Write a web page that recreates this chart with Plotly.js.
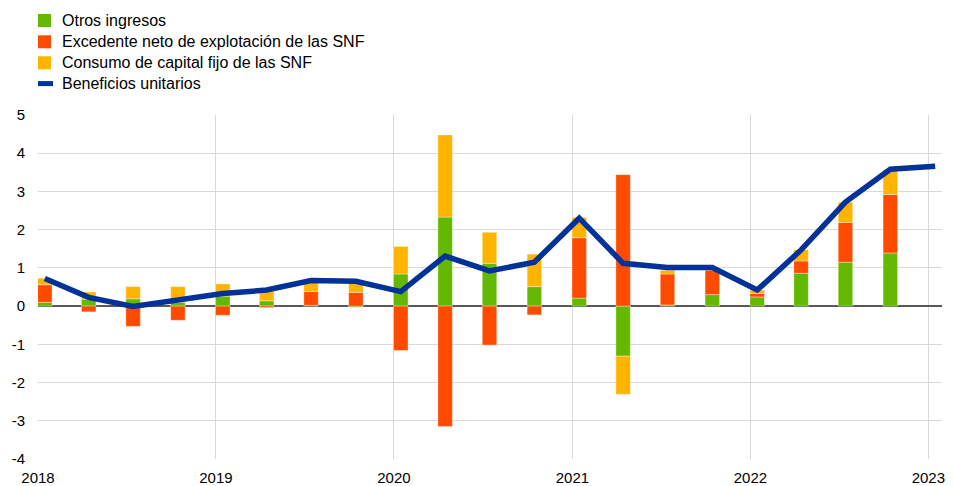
<!DOCTYPE html>
<html>
<head>
<meta charset="utf-8">
<script src="https://cdn.plot.ly/plotly-3.0.1.min.js"></script>
<style>html,body{margin:0;padding:0;background:#fff;}#chart{width:954px;height:486px;}</style>
</head>
<body>
<div id="chart"></div>
<script>
// Quarterly periods (2018Q1 .. 2023Q1)
const periods = ["2018Q1","2018Q2","2018Q3","2018Q4","2019Q1","2019Q2","2019Q3","2019Q4",
  "2020Q1","2020Q2","2020Q3","2020Q4","2021Q1","2021Q2","2021Q3","2021Q4",
  "2022Q1","2022Q2","2022Q3","2022Q4","2023Q1"];
// Contributions (percentage points); bars for 2018Q1..2022Q4
const otrosIngresos = [0.10, 0.18, 0.19, 0.10, 0.26, 0.14, 0.02, -0.03,
  0.84, 2.33, 1.12, 0.51, 0.21, -1.31, 0.03, 0.30,
  0.24, 0.86, 1.15, 1.39];
const excedenteNeto = [0.46, -0.15, -0.53, -0.37, -0.24, -0.04, 0.36, 0.36,
  -1.16, -3.15, -1.02, -0.23, 1.58, 3.44, 0.81, 0.64,
  0.09, 0.32, 1.04, 1.53];
const consumoCapital = [0.17, 0.19, 0.32, 0.41, 0.32, 0.27, 0.27, 0.29,
  0.72, 2.15, 0.81, 0.85, 0.53, -1.00, 0.10, 0.03,
  0.09, 0.30, 0.53, 0.65];
// Unit profits (annual % change), 2018Q1..2023Q1
const beneficiosUnitarios = [0.72, 0.23, -0.01, 0.16, 0.33, 0.42, 0.67, 0.65,
  0.38, 1.31, 0.92, 1.15, 2.30, 1.12, 1.01, 1.01,
  0.42, 1.47, 2.72, 3.58, 3.66];
const yearTicks = ["2018","2019","2020","2021","2022","2023"];
const yTicks = [-4,-3,-2,-1,0,1,2,3,4,5];

const names = ["Otros ingresos","Excedente neto de explotación de las SNF","Consumo de capital fijo de las SNF","Beneficios unitarios"];
const colors = ["#65b800","#ff4b00","#ffb400","#003299"];

function periodToDate(p){
  const y = p.slice(0,4); const q = +p.slice(5);
  const m = String((q-1)*3+1).padStart(2,"0");
  return y + "-" + m + "-15";
}
const xDates = periods.map(periodToDate);
const barDates = xDates.slice(0, otrosIngresos.length);
const barWidth = 29.7*864e5;

function barTrace(vals, i){
  return {type:"bar", x:barDates, y:vals, name:names[i], width:barWidth,
    marker:{color:colors[i], line:{color:"rgba(255,255,255,0.35)", width:1}},
    hoverinfo:"x+y"};
}
const traces = [
  barTrace(otrosIngresos,0),
  barTrace(excedenteNeto,1),
  barTrace(consumoCapital,2),
  {type:"scatter", mode:"lines", x:xDates, y:beneficiosUnitarios, name:names[3],
   line:{color:colors[3], width:5.5}}
];

// Legend drawn as shapes + annotations (pixel layout converted to paper coords)
const W = 954, H = 486, M = {l:38, r:12, t:115, b:27};
const pw = W - M.l - M.r, ph = H - M.t - M.b;
const px = x => (x - M.l) / pw;
const py = y => (H - M.b - y) / ph;
const legendY = [20.5, 41.8, 62.8, 83.6];
const shapes = [], annotations = [];
names.forEach((n, i) => {
  const yc = legendY[i];
  if (i < 3) {
    shapes.push({type:"rect", xref:"paper", yref:"paper", x0:px(38), x1:px(51), y0:py(yc-6.5), y1:py(yc+6.5),
      fillcolor:colors[i], line:{width:0}});
  } else {
    shapes.push({type:"rect", xref:"paper", yref:"paper", x0:px(38), x1:px(53), y0:py(yc-2.5), y1:py(yc+2.5),
      fillcolor:colors[i], line:{width:0}});
  }
  annotations.push({xref:"paper", yref:"paper", x:px(60), y:py(yc), xanchor:"left", yanchor:"middle",
    text:n, showarrow:false, font:{size:16, color:"#000"}});
});

const layout = {
  width:W, height:H,
  margin:{l:M.l, r:M.r, t:M.t, b:M.b, autoexpand:false},
  paper_bgcolor:"#fff", plot_bgcolor:"#fff",
  barmode:"relative", bargap:0,
  font:{family:"Liberation Sans, Arial, sans-serif", size:15, color:"#000"},
  showlegend:false,
  shapes:shapes, annotations:annotations,
  xaxis:{type:"date", range:["2018-01-01","2023-01-29"],
    tickmode:"array", tickvals:yearTicks.map(y=>y+"-01-01"), ticktext:yearTicks,
    showgrid:true, gridcolor:"#d9d9d9", gridwidth:1, zeroline:false, showline:false,
    ticks:"", ticklabelstandoff:8, tickfont:{size:15, color:"#000"}},
  yaxis:{range:[-4,5], tickmode:"array", tickvals:yTicks, ticktext:yTicks.map(String),
    showgrid:true, gridcolor:"#d9d9d9", gridwidth:1,
    zeroline:true, zerolinecolor:"#595959", zerolinewidth:1.5, showline:false,
    ticks:"", ticklabelstandoff:12, tickfont:{size:15, color:"#000"}}
};
Plotly.newPlot("chart", traces, layout, {displayModeBar:false, staticPlot:true});
</script>
</body>
</html>
